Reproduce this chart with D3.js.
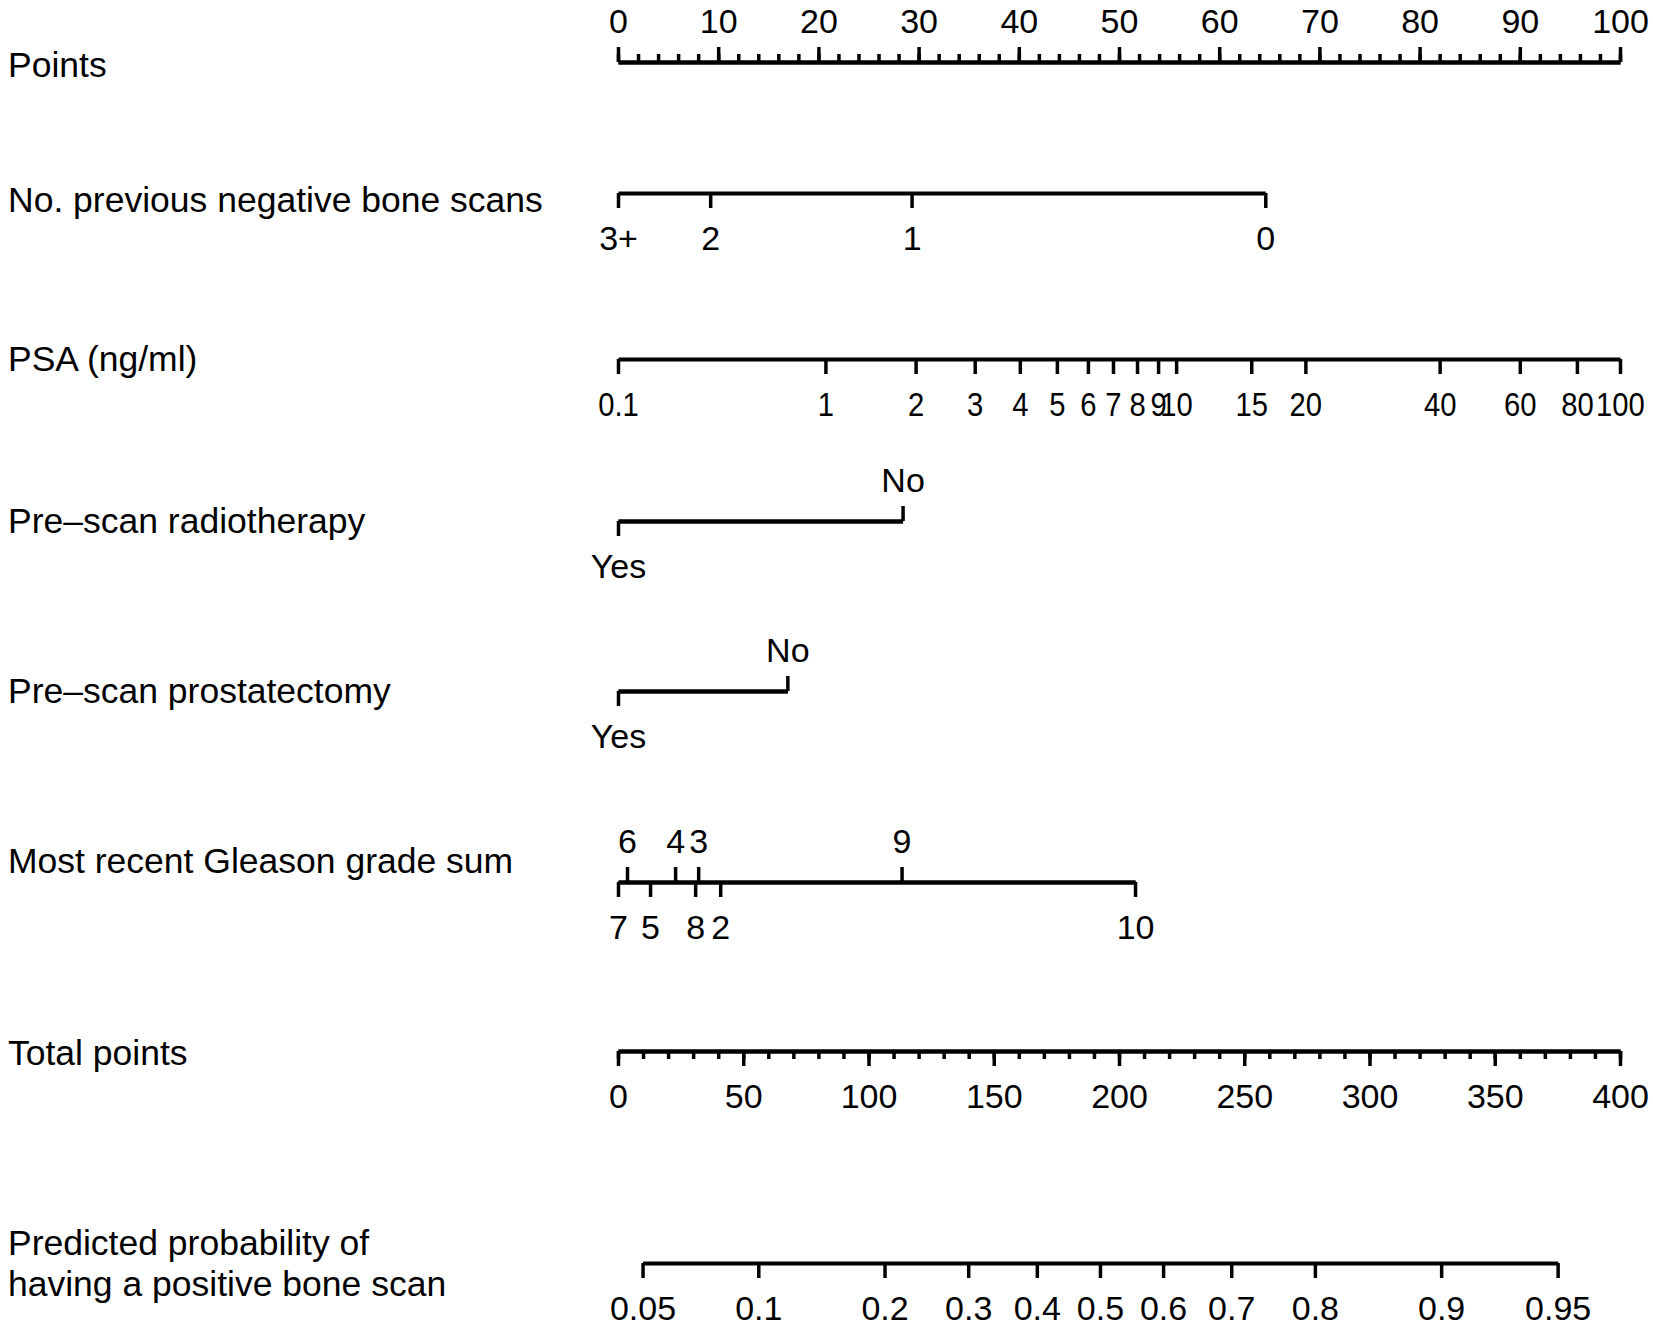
<!DOCTYPE html>
<html>
<head>
<meta charset="utf-8">
<script src="https://cdn.jsdelivr.net/npm/d3@7"></script>
<style>
  body { margin: 0; background: #fff; }
  svg text { font-family: "Liberation Sans", Arial, Helvetica, sans-serif; fill: #000; }
</style>
</head>
<body>
<div class="container"></div>
<script>

// ---- data (positions are in "points", 0-100) ----
const pointsTicks = [0, 10, 20, 30, 40, 50, 60, 70, 80, 90, 100]

const boneScanLabels = ["3+", "2", "1", "0"]
const boneScanPoints = [0, 9.2, 29.3, 64.6]
const boneScanSides  = ["below", "below", "below", "below"]

const psaLabels = ["0.1", "1", "2", "3", "4", "5", "6", "7", "8", "9", "10", "15", "20", "40", "60", "80", "100"]
const psaPoints = [0, 20.7, 29.7, 35.6, 40.1, 43.8, 46.9, 49.4, 51.8, 53.9, 55.7, 63.2, 68.6, 82.0, 90.0, 95.7, 100]
const psaSides  = psaLabels.map(() => "below")

const radioLabels = ["Yes", "No"]
const radioPoints = [0, 28.4]
const radioSides  = ["below", "above"]

const prostLabels = ["Yes", "No"]
const prostPoints = [0, 16.9]
const prostSides  = ["below", "above"]

const gleasonLabels = ["7", "6", "5", "4", "8", "3", "2", "9", "10"]
const gleasonPoints = [0, 0.9, 3.2, 5.7, 7.7, 8.0, 10.2, 28.3, 51.6]
const gleasonSides  = ["below", "above", "below", "above", "below", "above", "below", "above", "below"]

const totalTicks = [0, 50, 100, 150, 200, 250, 300, 350, 400]

// predicted probability ticks, located on the total points scale
const probLabels = ["0.05", "0.1", "0.2", "0.3", "0.4", "0.5", "0.6", "0.7", "0.8", "0.9", "0.95"]
const probTotalPoints = [9.8, 56.0, 106.4, 139.8, 167.2, 192.4, 217.6, 244.8, 278.2, 328.6, 375.1]

// ---- layout ----
const w = 1653
const h = 1327
const x0 = 618
const x1 = 1620
const fontSize = 34
const labelSize = 35.5
const major = 15
const minor = 8
const lineW = 4
const tickW = 3.5

const svg = d3.select(".container")
  .append("svg")
  .attr("width", w)
  .attr("height", h)

svg.append("rect").attr("width", w).attr("height", h).attr("fill", "#fff")

const xPoints = d3.scaleLinear().domain([0, 100]).range([x0, x1])
const xTotal = d3.scaleLinear().domain([0, 400]).range([x0, x1])

// left hand labels
const rowLabels = [
  { text: "Points", y: 65 },
  { text: "No. previous negative bone scans", y: 200 },
  { text: "PSA (ng/ml)", y: 359 },
  { text: "Pre\u2013scan radiotherapy", y: 521 },
  { text: "Pre\u2013scan prostatectomy", y: 691 },
  { text: "Most recent Gleason grade sum", y: 861 },
  { text: "Total points", y: 1053 },
  { text: "Predicted probability of", y: 1243 },
  { text: "having a positive bone scan", y: 1284 }
]

svg.selectAll("text.rowlabel")
  .data(rowLabels)
  .enter()
  .append("text")
  .attr("class", "rowlabel")
  .attr("x", 8)
  .attr("y", d => d.y)
  .attr("dominant-baseline", "central")
  .style("font-size", labelSize + "px")
  .text(d => d.text)

const styleAxis = (g) => {
  g.attr("font-family", null).attr("font-size", null)
  g.select(".domain").attr("stroke", "#000").attr("stroke-width", lineW)
  g.selectAll(".tick line").attr("stroke", "#000").attr("stroke-width", tickW)
  g.selectAll(".tick text").style("font-size", fontSize + "px").attr("fill", "#000")
}

// a full axis with major + minor ticks (Points / Total points)
const fullAxis = (scale, y, majors, step, top) => {
  const dom = scale.domain()
  const minors = d3.range(dom[0], dom[1] + 0.001, step)
  const mk = top ? d3.axisTop : d3.axisBottom

  svg.append("g")
    .attr("transform", "translate(0," + y + ")")
    .call(mk(scale).tickValues(minors).tickSize(minor).tickSizeOuter(0).tickFormat(""))
    .call(styleAxis)

  svg.append("g")
    .attr("transform", "translate(0," + y + ")")
    .call(mk(scale).tickValues(majors).tickSize(major).tickSizeOuter(0)
      .tickPadding(top ? 14 : 18).tickFormat(d3.format("d")))
    .call(styleAxis)
}

// a variable row: line between extreme values, labels above or below
const rowAxis = (scale, y, pts, labels, sides, squeeze) => {
  const ext = d3.extent(pts)
  const rowScale = d3.scaleLinear().domain(ext).range(ext.map(scale))
  const lookup = new Map(pts.map((p, i) => [p, labels[i]]))

  const below = pts.filter((p, i) => sides[i] === "below")
  const above = pts.filter((p, i) => sides[i] === "above")
  const groups = []

  if (below.length) {
    groups.push(svg.append("g")
      .attr("transform", "translate(0," + y + ")")
      .call(d3.axisBottom(rowScale).tickValues(below).tickSize(major).tickSizeOuter(0)
        .tickPadding(18).tickFormat(p => lookup.get(p)))
      .call(styleAxis))
  }
  if (above.length) {
    groups.push(svg.append("g")
      .attr("transform", "translate(0," + y + ")")
      .call(d3.axisTop(rowScale).tickValues(above).tickSize(major).tickSizeOuter(0)
        .tickPadding(14).tickFormat(p => lookup.get(p)))
      .call(styleAxis))
  }
  // crowded rows: narrow the digits a little so neighbours just touch
  if (squeeze) {
    groups.forEach(g => g.selectAll(".tick text").attr("transform", "scale(" + squeeze + ",1)"))
  }
}

fullAxis(xPoints, 62, pointsTicks, 2, true)
rowAxis(xPoints, 193, boneScanPoints, boneScanLabels, boneScanSides)
rowAxis(xPoints, 359, psaPoints, psaLabels, psaSides, 0.86)
rowAxis(xPoints, 521, radioPoints, radioLabels, radioSides)
rowAxis(xPoints, 691, prostPoints, prostLabels, prostSides)
rowAxis(xPoints, 882, gleasonPoints, gleasonLabels, gleasonSides)
fullAxis(xTotal, 1051, totalTicks, 10, false)
rowAxis(xTotal, 1263, probTotalPoints, probLabels, probLabels.map(() => "below"))

</script>
</body>
</html>
